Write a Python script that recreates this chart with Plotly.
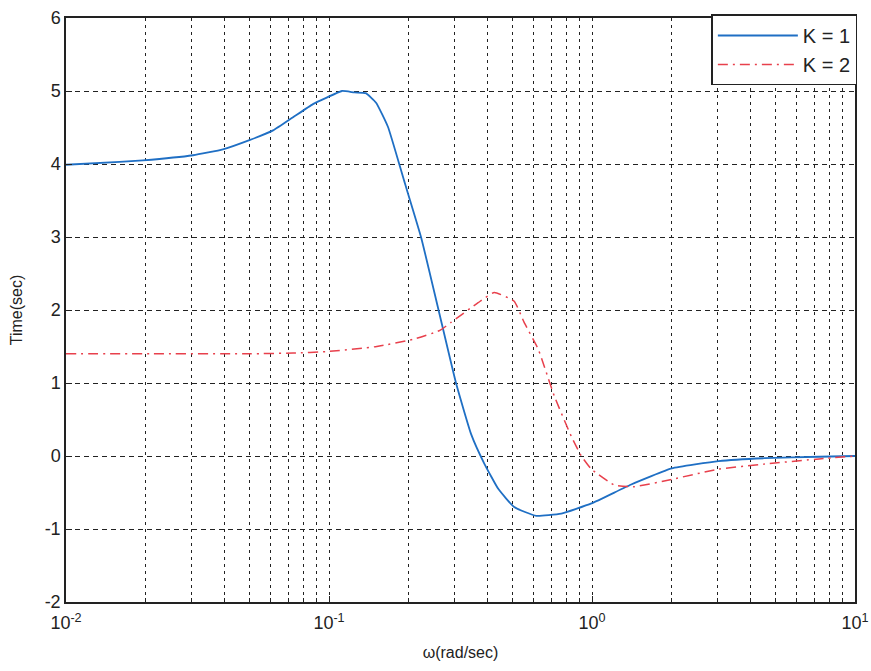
import plotly.graph_objects as go

# K = 1 curve
w_k1 = [0.01, 0.016, 0.0196, 0.0304, 0.0395, 0.0501, 0.0613, 0.073, 0.0869, 0.098,
        0.112, 0.125, 0.138, 0.151, 0.1675, 0.1927, 0.2238, 0.2597, 0.304, 0.347,
        0.389, 0.44, 0.506, 0.614, 0.764, 0.995, 1.41, 2.01, 3.03, 4.54, 7.3, 10.0]
t_k1 = [3.99, 4.03, 4.05, 4.12, 4.2, 4.33, 4.46, 4.64, 4.82, 4.91,
        5.0, 4.98, 4.97, 4.84, 4.51, 3.78, 3.0, 2.03, 1.0, 0.3,
        -0.1, -0.45, -0.7, -0.82, -0.79, -0.65, -0.39, -0.17, -0.07, -0.03, -0.01, 0.0]

# K = 2 curve
w_k2 = [0.01, 0.0209, 0.0503, 0.073, 0.098, 0.152, 0.21, 0.264, 0.291, 0.369,
        0.425, 0.506, 0.552, 0.625, 0.719, 0.834, 0.911, 0.995, 1.217, 1.45,
        2.01, 3.03, 4.54, 7.3, 10.0]
t_k2 = [1.40, 1.40, 1.40, 1.41, 1.43, 1.5, 1.6, 1.72, 1.83, 2.1,
        2.24, 2.12, 1.83, 1.46, 0.82, 0.27, 0.0, -0.18, -0.40, -0.42,
        -0.32, -0.18, -0.11, -0.04, 0.0]

x_tickvals = [0.01, 0.1, 1, 10]
x_ticktext = ["10<sup>-2</sup>", "10<sup>-1</sup>", "10<sup>0</sup>", "10<sup>1</sup>"]
y_tickvals = [-2, -1, 0, 1, 2, 3, 4, 5, 6]
y_ticktext = ["-2", "-1", "0", "1", "2", "3", "4", "5", "6"]

font_family = "Liberation Sans, Arial, sans-serif"
ink = "#222"

fig = go.Figure()
fig.add_trace(go.Scatter(x=w_k1, y=t_k1, mode="lines", name="K = 1",
                         line=dict(color="#1f6fc4", width=1.8, shape="spline", smoothing=0.4)))
fig.add_trace(go.Scatter(x=w_k2, y=t_k2, mode="lines", name="K = 2",
                         line=dict(color="#e8404c", width=1.5, dash="10px,5px,2px,5px",
                                   shape="spline", smoothing=0.4)))

fig.update_layout(
    width=871, height=671,
    margin=dict(l=66, r=16, t=18, b=69),
    paper_bgcolor="white", plot_bgcolor="white",
    font=dict(family=font_family, size=17, color=ink),
    showlegend=True,
    legend=dict(x=1.003, y=1.006, xanchor="right", yanchor="top",
                bgcolor="white", bordercolor=ink, borderwidth=1.5,
                font=dict(size=20), itemwidth=80, tracegroupgap=2),
    xaxis=dict(type="log", range=[-2, 1], automargin=False,
               tickvals=x_tickvals, ticktext=x_ticktext,
               showline=True, linecolor=ink, linewidth=1.5, mirror=True,
               ticks="inside", ticklen=6, tickcolor=ink,
               showgrid=True, gridcolor=ink, griddash="3px,4px", gridwidth=1,
               minor=dict(dtick="D1", showgrid=True, gridcolor=ink,
                          griddash="3px,4px", gridwidth=1, ticks="inside", ticklen=4,
                          tickcolor=ink),
               zeroline=False, ticklabelstandoff=4,
               title=dict(text="ω(rad/sec)", font=dict(size=16), standoff=14),
               tickfont=dict(size=18)),
    yaxis=dict(range=[-2, 6], tickvals=y_tickvals, ticktext=y_ticktext, automargin=False,
               showline=True, linecolor=ink, linewidth=1.5, mirror=True,
               ticks="inside", ticklen=6, tickcolor=ink,
               showgrid=True, gridcolor=ink, griddash="5px,4px", gridwidth=1,
               zeroline=False, ticklabelstandoff=0,
               title=dict(text="Time(sec)", font=dict(size=16), standoff=18),
               tickfont=dict(size=18)),
)

fig.write_html("out.html", config={"displayModeBar": False},
               post_script="document.body.style.margin='0';")
